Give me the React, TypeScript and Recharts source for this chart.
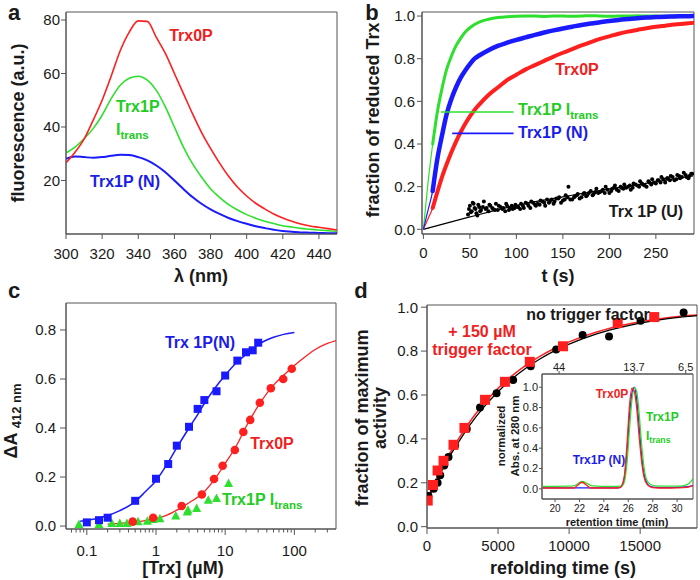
import React from 'react';
import { ComposedChart, Line, Scatter, XAxis, YAxis, ReferenceArea, ReferenceLine } from 'recharts';

const FONT = 'Arial, "Liberation Sans", Helvetica, sans-serif';
const RED = '#ff1f1f';
const GREEN = '#2ee02e';
const BLUE = '#1a1aff';
const RED_TXT = '#f01e1e';
const GREEN_TXT = '#22cc22';
const BLUE_TXT = '#1c1ce8';
const FRAME = '#555';
const INK = '#1a1a1a';

// ---- a: fluorescence spectra
const wavelength = [300, 305, 310, 315, 320, 325, 330, 335, 340, 345, 350, 355, 360, 365, 370, 375, 380, 385, 390, 395, 400, 405, 410, 415, 420, 425, 430, 435, 440, 445, 450];
const specTrx0P = [26.6, 30.6, 35.5, 42.5, 50, 59, 68.5, 75.5, 79.7, 79.5, 73.5, 67.5, 60, 52.5, 45, 38, 32, 26.5, 21.6, 17.5, 14.2, 11.5, 9.4, 7.5, 6, 4.8, 3.75, 3.0, 2.5, 2.0, 1.5];
const specTrx1PI = [30.3, 32.5, 35.6, 39.4, 44.4, 50.6, 55.6, 58.2, 59, 57.5, 53.7, 47.5, 40, 32.5, 26.3, 21.3, 16.9, 13.7, 11, 9, 7.25, 5.9, 4.75, 3.9, 3.1, 2.6, 2.1, 1.8, 1.5, 1.2, 1.0];
const specTrx1PN = [28.1, 29, 28.75, 28.5, 28.75, 29.25, 29.6, 29.5, 28.75, 27.5, 25.6, 23.1, 20, 16.8, 13.8, 11.3, 9.2, 7.5, 6.0, 4.8, 3.8, 2.9, 2.2, 1.6, 1.1, 0.85, 0.6, 0.5, 0.4, 0.3, 0.25];
const aTicksX = [300, 320, 340, 360, 380, 400, 420, 440];
const aTicksY = [20, 40, 60, 80];

// ---- b: reduction kinetics
const bTime = [0, 5, 10, 15, 20, 25, 30, 35, 40, 45, 50, 55, 60, 70, 80, 90, 100, 110, 120, 130, 140, 150, 160, 170, 180, 190, 200, 210, 220, 230, 240, 250, 260, 270, 280, 290];
const bGreen = [0, 0.22, 0.40, 0.55, 0.66, 0.75, 0.81, 0.86, 0.895, 0.925, 0.945, 0.96, 0.972, 0.985, 0.993, 0.997, 0.999, 1.0, 1.0, 0.998, 1.0, 1.0, 0.999, 1.0, 1.002, 1.0, 0.999, 1.0, 1.0, 1.001, 1.0, 1.0, 0.999, 1.0, 1.0, 1.0];
const bBlue = [0, 0.09, 0.18, 0.33, 0.44, 0.54, 0.61, 0.665, 0.71, 0.745, 0.775, 0.80, 0.815, 0.84, 0.86, 0.875, 0.888, 0.90, 0.912, 0.923, 0.933, 0.942, 0.95, 0.958, 0.965, 0.971, 0.977, 0.982, 0.986, 0.99, 0.993, 0.995, 0.997, 0.998, 0.999, 1.0];
const bRed = [0, 0.05, 0.10, 0.175, 0.245, 0.305, 0.36, 0.41, 0.455, 0.495, 0.53, 0.56, 0.585, 0.63, 0.665, 0.70, 0.725, 0.75, 0.77, 0.79, 0.81, 0.828, 0.845, 0.862, 0.878, 0.893, 0.905, 0.917, 0.927, 0.935, 0.943, 0.95, 0.955, 0.96, 0.964, 0.968];
const uTime = [
  48, 50, 52, 54, 56, 58, 60, 62, 65, 68,
  70, 72, 75, 78, 80, 83, 86, 88, 90, 93,
  96, 99, 102, 105, 108, 110, 113, 116, 120, 123,
  126, 130, 133, 136, 140, 143, 146, 150, 153, 156,
  160, 163, 166, 170, 173, 176, 180, 183, 186, 190,
  193, 196, 200, 203, 206, 210, 213, 216, 220, 223,
  226, 230, 233, 236, 240, 243, 246, 250, 253, 256,
  260, 263, 266, 270, 273, 276, 280, 283, 286, 289,
  49, 51, 53, 55, 57, 59, 61, 64, 67, 71,
  74, 77, 81, 85, 89, 92, 95, 98, 101, 104,
  107, 112, 115, 118, 121, 125, 128, 131, 135, 138,
  141, 145, 148, 152, 155, 158, 162, 165, 168, 172,
  175, 178, 182, 185, 188, 192, 195, 198, 202, 205,
  208, 212, 215, 218, 222, 225, 228, 232, 235, 238,
  242, 245, 248, 252, 255, 258, 262, 265, 268, 272,
  275, 278, 282, 285, 288,
];
const uFrac = [
  0.070, 0.110, 0.085, 0.120, 0.095, 0.065, 0.105, 0.090, 0.130, 0.100,
  0.085, 0.110, 0.095, 0.120, 0.090, 0.105, 0.100, 0.085, 0.110, 0.100,
  0.095, 0.115, 0.105, 0.120, 0.100, 0.125, 0.110, 0.130, 0.115, 0.120,
  0.135, 0.125, 0.140, 0.130, 0.120, 0.145, 0.150, 0.135, 0.160, 0.200,
  0.140, 0.155, 0.165, 0.150, 0.170, 0.160, 0.180, 0.165, 0.190, 0.175,
  0.185, 0.200, 0.170, 0.190, 0.205, 0.180, 0.195, 0.210, 0.200, 0.185,
  0.215, 0.205, 0.225, 0.210, 0.200, 0.220, 0.235, 0.215, 0.230, 0.245,
  0.220, 0.240, 0.250, 0.230, 0.255, 0.240, 0.265, 0.245, 0.250, 0.260,
  0.095, 0.080, 0.125, 0.100, 0.075, 0.115, 0.085, 0.105, 0.095, 0.115,
  0.100, 0.090, 0.110, 0.095, 0.120, 0.090, 0.110, 0.100, 0.105, 0.095,
  0.110, 0.120, 0.100, 0.125, 0.110, 0.115, 0.130, 0.110, 0.125, 0.140,
  0.130, 0.145, 0.125, 0.140, 0.150, 0.140, 0.150, 0.160, 0.145, 0.165,
  0.155, 0.170, 0.160, 0.175, 0.170, 0.180, 0.170, 0.185, 0.180, 0.195,
  0.185, 0.200, 0.190, 0.195, 0.205, 0.195, 0.210, 0.200, 0.215, 0.205,
  0.225, 0.210, 0.220, 0.230, 0.220, 0.235, 0.240, 0.230, 0.245, 0.235,
  0.250, 0.245, 0.255, 0.240, 0.260,
];
const uFitTime = [0, 50, 100, 150, 200, 250, 290];
const uFitFrac = [0, 0.058, 0.112, 0.152, 0.19, 0.222, 0.25];
const bTicksX = [0, 50, 100, 150, 200, 250];
const bTicksY = [0, 0.2, 0.4, 0.6, 0.8, 1.0];
const bLeaderGreen = [{ x: 19, y: 0.55 }, { x: 97, y: 0.55 }];
const bLeaderBlue = [{ x: 31, y: 0.45 }, { x: 97, y: 0.45 }];

// ---- c: titration (log x)
const cBlueConc = [0.1, 0.15, 0.2, 0.5, 1, 1.5, 2, 3, 4, 5, 7.5, 10, 15, 20, 25, 30];
const cBlueA = [0.015, 0.024, 0.034, 0.103, 0.193, 0.253, 0.328, 0.405, 0.478, 0.514, 0.55, 0.614, 0.675, 0.709, 0.717, 0.748];
const cBlueFitConc = [0.08, 0.1, 0.15, 0.2, 0.3, 0.5, 0.7, 1, 1.5, 2, 3, 4, 5, 7, 10, 15, 20, 30, 50, 70, 100];
const cBlueFitA = [0.02, 0.024, 0.033, 0.043, 0.063, 0.10, 0.14, 0.185, 0.26, 0.32, 0.40, 0.455, 0.50, 0.56, 0.615, 0.67, 0.70, 0.74, 0.77, 0.782, 0.79];
const cRedConc = [0.46, 0.91, 2.35, 4.6, 6.9, 9.2, 13.8, 18.3, 23, 31.7, 45.7, 69, 91.7];
const cRedA = [0.018, 0.034, 0.082, 0.129, 0.192, 0.246, 0.31, 0.384, 0.433, 0.503, 0.562, 0.60, 0.642];
const cRedFitConc = [0.2, 0.3, 0.5, 0.7, 1, 1.5, 2, 3, 5, 7, 10, 15, 20, 30, 50, 70, 100, 150, 200, 300, 400];
const cRedFitA = [0.008, 0.011, 0.016, 0.022, 0.031, 0.047, 0.065, 0.095, 0.14, 0.19, 0.255, 0.335, 0.405, 0.49, 0.575, 0.615, 0.655, 0.695, 0.72, 0.745, 0.757];
const cGreenConc = [0.077, 0.15, 0.23, 0.3, 0.38, 0.55, 0.75, 0.91, 1.14, 1.93, 2.83, 2.9, 3.87, 5.7, 7.5, 11.2];
const cGreenA = [0.007, 0.007, 0.011, 0.011, 0.011, 0.018, 0.02, 0.027, 0.03, 0.041, 0.058, 0.065, 0.072, 0.106, 0.113, 0.174];
const cMajorTicks = [0.1, 1, 10, 100];
const cMajorLabels = ['0.1', '1', '10', '100'];
const cMinorTicks = [0.06, 0.07, 0.08, 0.09, 0.2, 0.3, 0.4, 0.5, 0.6, 0.7, 0.8, 0.9, 2, 3, 4, 5, 6, 7, 8, 9, 20, 30, 40, 50, 60, 70, 80, 90, 200, 300];
const cTicksY = [0, 0.2, 0.4, 0.6, 0.8];

// ---- d: refolding
const dRedTime = [50, 420, 745, 1165, 1865, 2635, 4085, 5485, 7235, 9570, 13420, 15990];
const dRedAct = [0.119, 0.19, 0.256, 0.30, 0.373, 0.45, 0.578, 0.66, 0.751, 0.822, 0.928, 0.955];
const dBlackTime = [100, 470, 745, 930, 1210, 1515, 1980, 2800, 3730, 4895, 6060, 7300, 9090, 10950, 12810, 15030, 18060];
const dBlackAct = [0.14, 0.173, 0.2, 0.234, 0.279, 0.317, 0.37, 0.445, 0.543, 0.608, 0.668, 0.731, 0.807, 0.873, 0.867, 0.938, 0.976];
const dFitTime = [0, 500, 1000, 1500, 2000, 3000, 4000, 5000, 6000, 7000, 8000, 9000, 10000, 12000, 14000, 16000, 18000, 19000];
const dFitBlack = [0.113, 0.185, 0.25, 0.31, 0.363, 0.462, 0.545, 0.615, 0.674, 0.724, 0.766, 0.802, 0.832, 0.880, 0.914, 0.939, 0.956, 0.962];
const dFitRed = [0.124, 0.197, 0.263, 0.323, 0.377, 0.477, 0.56, 0.63, 0.688, 0.737, 0.778, 0.813, 0.842, 0.888, 0.921, 0.944, 0.96, 0.965];
const dTicksX = [0, 5000, 10000, 15000];
const dTicksY = [0, 0.2, 0.4, 0.6, 0.8, 1.0];

// ---- d inset: size exclusion chromatography
const secMinutes = [19, 20, 21, 21.5, 21.8, 22.2, 22.6, 22.9, 23.5, 24, 25, 25.3, 25.5, 25.7, 25.9, 26.1, 26.3, 26.5, 26.7, 26.9, 27.1, 27.3, 27.5, 27.8, 28.2, 29, 30, 30.5, 31, 31.3];
const secTrx0P = [0.008, 0.008, 0.008, 0.008, 0.03, 0.065, 0.035, 0.008, 0.008, 0.008, 0.008, 0.012, 0.04, 0.15, 0.45, 0.82, 0.99, 0.955, 0.78, 0.5, 0.26, 0.11, 0.05, 0.02, 0.01, 0.008, 0.01, 0.012, 0.02, 0.03];
const secTrx1PI = [0.025, 0.025, 0.026, 0.03, 0.045, 0.072, 0.055, 0.035, 0.027, 0.025, 0.025, 0.026, 0.03, 0.08, 0.27, 0.6, 0.88, 0.995, 0.95, 0.72, 0.42, 0.2, 0.09, 0.045, 0.03, 0.026, 0.026, 0.03, 0.055, 0.1];
const secTrx1PN = [0.01, 0.01, 0.01, 0.01, 0.01, 0.01, 0.01, 0.01, 0.01, 0.01, 0.01, 0.012, 0.035, 0.12, 0.38, 0.72, 0.94, 1.0, 0.87, 0.6, 0.32, 0.14, 0.06, 0.025, 0.015, 0.012, 0.015, 0.018, 0.025, 0.032];
const secTicksX = [20, 22, 24, 26, 28, 30];
const secTicksY = [0, 0.2, 0.4, 0.6, 0.8, 1.0];
const mwPos = [20.33, 26.47, 30.7];
const mwLabels = ['44', '13.7', '6.5'];

const pairs = (xs: number[], ys: number[]) => xs.map((x, i) => ({ x, y: ys[i] }));
const tickStyle = (size: number) => ({ fill: INK, fontSize: size, fontFamily: FONT });
const fmt1 = (v: number) => v.toFixed(1);

const square = (color: string, s: number) => (p: any) => (
  <rect x={p.cx - s / 2} y={p.cy - s / 2} width={s} height={s} fill={color} />
);
const circle = (color: string, r: number) => (p: any) => <circle cx={p.cx} cy={p.cy} r={r} fill={color} />;
const triangle = (color: string, s: number) => (p: any) => (
  <polygon
    points={`${p.cx},${p.cy - s * 0.55} ${p.cx - s / 2},${p.cy + s * 0.4} ${p.cx + s / 2},${p.cy + s * 0.4}`}
    fill={color}
  />
);

function LogTick(props: any) {
  const { x, y, payload } = props;
  const i = cMajorTicks.indexOf(payload.value);
  const major = i >= 0;
  return (
    <g>
      <line x1={x} x2={x} y1={y} y2={y + (major ? 6 : 3.5)} stroke={FRAME} />
      {major && (
        <text x={x} y={y + 16} dy="0.71em" textAnchor="middle" fill={INK} fontSize={15} fontFamily={FONT}>
          {cMajorLabels[i]}
        </text>
      )}
    </g>
  );
}

type TxtProps = {
  x: number;
  y: number;
  color?: string;
  size?: number;
  align?: 'start' | 'middle';
  rotate?: boolean;
  children: React.ReactNode;
};

function Txt({ x, y, color = INK, size = 16, align = 'middle', rotate = false, children }: TxtProps) {
  const tx = align === 'middle' ? '-50%' : '0';
  return (
    <div
      style={{
        position: 'absolute',
        left: x,
        top: y,
        transform: `translate(${tx}, -50%)${rotate ? ' rotate(-90deg)' : ''}`,
        color,
        fontSize: size,
        fontWeight: 'bold',
        fontFamily: FONT,
        lineHeight: 1,
        whiteSpace: 'nowrap',
      }}
    >
      {children}
    </div>
  );
}

const Sub = ({ children }: { children: React.ReactNode }) => (
  <span style={{ fontSize: '0.72em', position: 'relative', top: '0.32em' }}>{children}</span>
);

function PanelA() {
  return (
    <div style={{ position: 'absolute', left: 0, top: 0 }}>
      <ComposedChart width={345} height={290} margin={{ top: 12, right: 8, left: 0, bottom: 0 }}>
        <XAxis dataKey="x" type="number" domain={[300, 450]} ticks={aTicksX} interval={0} allowDataOverflow
          tick={tickStyle(15)} tickSize={5} tickMargin={9} stroke={FRAME} height={56} />
        <YAxis type="number" domain={[0, 83]} ticks={aTicksY} interval={0} allowDataOverflow
          tick={tickStyle(15)} tickSize={5} tickMargin={1} stroke={FRAME} width={66} />
        <ReferenceArea x1={300} x2={450} y1={0} y2={83} fill="none" stroke={FRAME} />
        <Line data={pairs(wavelength, specTrx1PN)} dataKey="y" type="monotone" stroke={BLUE} strokeWidth={2} dot={false} isAnimationActive={false} />
        <Line data={pairs(wavelength, specTrx1PI)} dataKey="y" type="monotone" stroke={GREEN} strokeWidth={1.6} dot={false} isAnimationActive={false} />
        <Line data={pairs(wavelength, specTrx0P)} dataKey="y" type="monotone" stroke={RED} strokeWidth={1.6} dot={false} isAnimationActive={false} />
      </ComposedChart>
    </div>
  );
}

function PanelB() {
  const band = (ys: number[]) => pairs(bTime, ys).slice(2);
  return (
    <div style={{ position: 'absolute', left: 350, top: 0 }}>
      <ComposedChart width={350} height={290} margin={{ top: 12, right: 6, left: 0, bottom: 0 }}>
        <XAxis dataKey="x" type="number" domain={[-1.5, 291]} ticks={bTicksX} interval={0} allowDataOverflow
          tick={tickStyle(15)} tickSize={5} tickMargin={8} stroke={FRAME} height={56} />
        <YAxis type="number" domain={[-0.022, 1.019]} ticks={bTicksY} interval={0} allowDataOverflow tickFormatter={fmt1}
          tick={tickStyle(15)} tickSize={5} tickMargin={2} stroke={FRAME} width={72} />
        <ReferenceArea x1={-1.5} x2={291} y1={-0.022} y2={1.019} fill="none" stroke={FRAME} />
        <Line data={pairs(uFitTime, uFitFrac)} dataKey="y" type="monotone" stroke="#000" strokeWidth={1.2} dot={false} isAnimationActive={false} />
        <Scatter data={pairs(uTime, uFrac)} dataKey="y" shape={circle('#000', 2)} isAnimationActive={false} />
        <Line data={pairs(bTime, bRed)} dataKey="y" type="monotone" stroke={RED} strokeWidth={1.2} dot={false} isAnimationActive={false} />
        <Line data={band(bRed)} dataKey="y" type="monotone" stroke={RED} strokeWidth={4} strokeLinecap="round" dot={false} isAnimationActive={false} />
        <Line data={pairs(bTime, bGreen)} dataKey="y" type="monotone" stroke={GREEN} strokeWidth={1.2} dot={false} isAnimationActive={false} />
        <Line data={band(bGreen)} dataKey="y" type="monotone" stroke={GREEN} strokeWidth={3} strokeLinecap="round" dot={false} isAnimationActive={false} />
        <Line data={pairs(bTime, bBlue)} dataKey="y" type="monotone" stroke={BLUE} strokeWidth={1.2} dot={false} isAnimationActive={false} />
        <Line data={band(bBlue)} dataKey="y" type="monotone" stroke={BLUE} strokeWidth={4.5} strokeLinecap="round" dot={false} isAnimationActive={false} />
        <ReferenceLine segment={bLeaderGreen} stroke={GREEN} strokeWidth={1.6} />
        <ReferenceLine segment={bLeaderBlue} stroke={BLUE} strokeWidth={1.6} />
      </ComposedChart>
    </div>
  );
}

function PanelC() {
  return (
    <div style={{ position: 'absolute', left: 0, top: 290 }}>
      <ComposedChart width={345} height={290} margin={{ top: 13, right: 9, left: 0, bottom: 0 }}>
        <XAxis dataKey="x" type="number" scale="log" domain={[0.05, 400]} ticks={[...cMajorTicks, ...cMinorTicks]} interval={0} allowDataOverflow
          tick={<LogTick />} tickLine={false} tickSize={0} tickMargin={0} stroke={FRAME} height={51} />
        <YAxis type="number" domain={[-0.012, 0.91]} ticks={cTicksY} interval={0} allowDataOverflow tickFormatter={fmt1}
          tick={tickStyle(15)} tickSize={6} tickMargin={4} stroke={FRAME} width={66} />
        <ReferenceArea x1={0.05} x2={400} y1={-0.012} y2={0.91} fill="none" stroke={FRAME} />
        <Line data={pairs(cBlueFitConc, cBlueFitA)} dataKey="y" type="monotone" stroke={BLUE} strokeWidth={1.5} dot={false} isAnimationActive={false} />
        <Line data={pairs(cRedFitConc, cRedFitA)} dataKey="y" type="monotone" stroke={RED} strokeWidth={1.3} dot={false} isAnimationActive={false} />
        <Scatter data={pairs(cGreenConc, cGreenA)} dataKey="y" shape={triangle(GREEN, 9)} isAnimationActive={false} />
        <Scatter data={pairs(cRedConc, cRedA)} dataKey="y" shape={circle(RED, 4.3)} isAnimationActive={false} />
        <Scatter data={pairs(cBlueConc, cBlueA)} dataKey="y" shape={square(BLUE, 8)} isAnimationActive={false} />
      </ComposedChart>
    </div>
  );
}

function PanelD() {
  return (
    <div style={{ position: 'absolute', left: 350, top: 290 }}>
      <ComposedChart width={350} height={290} margin={{ top: 15, right: 3, left: 0, bottom: 0 }}>
        <XAxis dataKey="x" type="number" domain={[0, 19000]} ticks={dTicksX} interval={0} allowDataOverflow
          tick={tickStyle(15)} tickSize={6} tickMargin={6} stroke={FRAME} height={52} />
        <YAxis type="number" domain={[-0.006, 1.01]} ticks={dTicksY} interval={0} allowDataOverflow tickFormatter={fmt1}
          tick={tickStyle(15)} tickSize={6} tickMargin={3} stroke={FRAME} width={77} />
        <ReferenceArea x1={0} x2={19000} y1={-0.006} y2={1.01} fill="none" stroke={FRAME} />
        <Line data={pairs(dFitTime, dFitRed)} dataKey="y" type="monotone" stroke={RED} strokeWidth={1.5} dot={false} isAnimationActive={false} />
        <Line data={pairs(dFitTime, dFitBlack)} dataKey="y" type="monotone" stroke="#000" strokeWidth={1.3} dot={false} isAnimationActive={false} />
        <Scatter data={pairs(dBlackTime, dBlackAct)} dataKey="y" shape={circle('#000', 4)} isAnimationActive={false} />
        <Scatter data={pairs(dRedTime, dRedAct)} dataKey="y" shape={square(RED, 10)} isAnimationActive={false} />
      </ComposedChart>
    </div>
  );
}

function Inset() {
  return (
    <>
      <div style={{ position: 'absolute', left: 542, top: 374, width: 151, height: 125, background: '#fff' }} />
      <div style={{ position: 'absolute', left: 480, top: 350 }}>
        <ComposedChart width={220} height={180} margin={{ top: 0, right: 7, left: 0, bottom: 0 }}>
          <XAxis dataKey="x" type="number" domain={[18.93, 31.3]} ticks={secTicksX} interval={0} allowDataOverflow
            tick={tickStyle(10)} tickSize={3} tickMargin={3} stroke={FRAME} height={31} />
          <XAxis xAxisId="mw" orientation="top" dataKey="x" type="number" domain={[18.93, 31.3]} ticks={mwPos} interval={0} allowDataOverflow
            tickFormatter={(v: number) => mwLabels[mwPos.indexOf(v)]}
            tick={tickStyle(11)} tickSize={3} tickMargin={0} stroke={FRAME} height={24} />
          <YAxis type="number" domain={[-0.1, 1.13]} ticks={secTicksY} interval={0} allowDataOverflow tickFormatter={fmt1}
            tick={tickStyle(11)} tickSize={3} tickMargin={1} stroke={FRAME} width={62} />
          <ReferenceArea x1={18.93} x2={31.3} y1={-0.1} y2={1.13} fill="none" stroke={FRAME} />
          <Line data={pairs(secMinutes, secTrx1PN)} dataKey="y" type="monotone" stroke={BLUE} strokeWidth={1.3} dot={false} isAnimationActive={false} />
          <Line data={pairs(secMinutes, secTrx1PI)} dataKey="y" type="monotone" stroke={GREEN} strokeWidth={1.3} dot={false} isAnimationActive={false} />
          <Line data={pairs(secMinutes, secTrx0P)} dataKey="y" type="monotone" stroke={RED} strokeWidth={1.3} dot={false} isAnimationActive={false} />
        </ComposedChart>
      </div>
    </>
  );
}

export default function App() {
  return (
    <div style={{ position: 'absolute', left: 0, top: 0, width: 700, height: 580, background: '#fff', overflow: 'hidden' }}>
      <PanelA />
      <PanelB />
      <PanelC />
      <PanelD />
      <Inset />

      {/* panel letters */}
      <Txt x={14} y={13} size={22}>a</Txt>
      <Txt x={372} y={13} size={22}>b</Txt>
      <Txt x={14} y={291} size={22}>c</Txt>
      <Txt x={361} y={291} size={22}>d</Txt>

      {/* a */}
      <Txt x={18} y={123} size={18} rotate>fluorescence (a.u.)</Txt>
      <Txt x={201} y={276} size={18}>λ (nm)</Txt>
      <Txt x={191} y={36} color={RED_TXT}>Trx0P</Txt>
      <Txt x={116} y={107} color={GREEN_TXT} align="start">Trx1P</Txt>
      <Txt x={116} y={130} color={GREEN_TXT} align="start">I<Sub>trans</Sub></Txt>
      <Txt x={125} y={182} color={BLUE_TXT}>Trx1P (N)</Txt>

      {/* b */}
      <Txt x={373} y={120} size={18} rotate>fraction of reduced Trx</Txt>
      <Txt x={558} y={276} size={18}>t (s)</Txt>
      <Txt x={577} y={70} color={RED_TXT}>Trx0P</Txt>
      <Txt x={518} y={110} color={GREEN_TXT} align="start">Trx1P I<Sub>trans</Sub></Txt>
      <Txt x={518} y={133} color={BLUE_TXT} align="start">Trx1P (N)</Txt>
      <Txt x={646} y={212}>Trx 1P (U)</Txt>

      {/* c */}
      <Txt x={11} y={421} size={18} rotate>ΔA <Sub>412 nm</Sub></Txt>
      <Txt x={183} y={568} size={18}>[Trx] (µM)</Txt>
      <Txt x={200} y={343} color={BLUE_TXT}>Trx 1P(N)</Txt>
      <Txt x={272} y={444} color={RED_TXT}>Trx0P</Txt>
      <Txt x={222} y={500} color={GREEN_TXT} align="start">Trx1P I<Sub>trans</Sub></Txt>

      {/* d */}
      <Txt x={362} y={418} size={18} rotate>fraction of maximum</Txt>
      <Txt x={380} y={418} size={18} rotate>activity</Txt>
      <Txt x={563} y={568} size={18}>refolding time (s)</Txt>
      <Txt x={588} y={315}>no trigger factor</Txt>
      <Txt x={482} y={332} color={RED_TXT}>+ 150 µM</Txt>
      <Txt x={482} y={350} color={RED_TXT}>trigger factor</Txt>

      {/* inset */}
      <Txt x={502} y={436} size={11.5} rotate>normalized</Txt>
      <Txt x={516} y={436} size={11.5} rotate>Abs. at 280 nm</Txt>
      <Txt x={617} y={522} size={11}>retention time (min)</Txt>
      <Txt x={612} y={394} size={12} color={RED_TXT}>Trx0P</Txt>
      <Txt x={646} y={417} size={12} color={GREEN_TXT} align="start">Trx1P</Txt>
      <Txt x={646} y={436} size={12} color={GREEN_TXT} align="start">I<Sub>trans</Sub></Txt>
      <Txt x={599} y={460} size={12} color={BLUE_TXT}>Trx1P (N)</Txt>
    </div>
  );
}
